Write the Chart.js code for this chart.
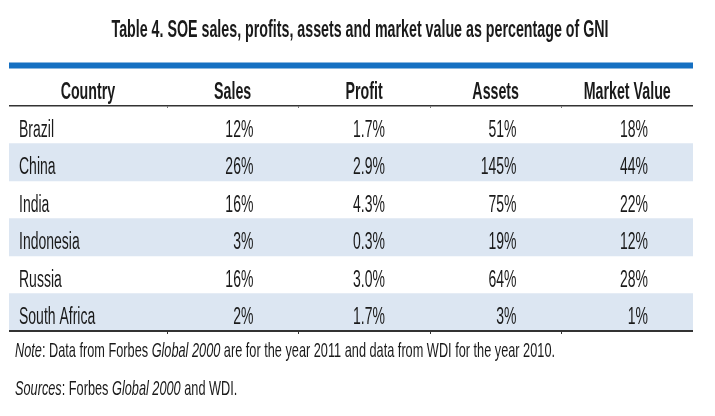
<!DOCTYPE html>
<html>
<head>
<meta charset="utf-8">
<script src="https://cdn.jsdelivr.net/npm/chart.js@4.4.0/dist/chart.umd.min.js"></script>
<style>
  html, body { margin: 0; padding: 0; background: #fff; }
</style>
</head>
<body>
<canvas id="soeTable" width="715" height="416"></canvas>
<script>
// table data
const countries = ['Brazil', 'China', 'India', 'Indonesia', 'Russia', 'South Africa'];
const columns = ['Country', 'Sales', 'Profit', 'Assets', 'Market Value'];
const sales = [12, 26, 16, 3, 16, 2];
const profit = [1.7, 2.9, 4.3, 0.3, 3.0, 1.7];
const assets = [51, 145, 75, 19, 64, 3];
const marketValue = [18, 44, 22, 12, 28, 1];
const titleText = 'Table 4. SOE sales, profits, assets and market value as percentage of GNI';
const noteRuns = [['Note', true], [': Data from Forbes ', false], ['Global 2000', true], [' are for the year 2011 and data from WDI for the year 2010.', false]];
const sourceRuns = [['Sources', true], [': Forbes ', false], ['Global 2000', true], [' and WDI.', false]];

const valueCols = [
  { data: sales, fmt: v => v + '%' },
  { data: profit, fmt: v => v.toFixed(1) + '%' },
  { data: assets, fmt: v => v + '%' },
  { data: marketValue, fmt: v => v + '%' },
];

const FAMILY = '"Liberation Sans", Arial, sans-serif';
const INK = '#1a1a1a';

// x axis runs over column units: country column is 1.2 wide, the others 1
const colEdges = [0, 1.2, 2.2, 3.2, 4.2, 5.2];

// the source uses a narrow face, so squeeze Liberation Sans sideways
function makeStyle(ctx, font, sample, width) {
  ctx.font = font;
  return { font, sx: width / ctx.measureText(sample).width };
}

function stretchText(ctx, s, x, y, st, align) {
  ctx.save();
  ctx.font = st.font;
  ctx.textAlign = align;
  ctx.textBaseline = 'alphabetic';
  ctx.fillStyle = INK;
  ctx.translate(x, y);
  ctx.scale(st.sx, 1);
  ctx.fillText(s, 0, 0);
  ctx.restore();
}

function runsText(ctx, runs, x, y, size, sx) {
  let cx = x;
  runs.forEach(([s, italic]) => {
    const font = (italic ? 'italic ' : '') + size + 'px ' + FAMILY;
    ctx.font = font;
    stretchText(ctx, s, cx, y, { font, sx }, 'left');
    cx += ctx.measureText(s).width * sx;
  });
}

const tablePlugin = {
  id: 'tablePlugin',
  afterDatasetsDraw(chart) {
    const { ctx, chartArea, scales: { x, y } } = chart;
    const rowH = y.getPixelForValue(1) - y.getPixelForValue(0);
    const left = chartArea.left, right = chartArea.right;
    const headTop = chartArea.top - rowH;

    const titleSt = makeStyle(ctx, 'bold 24px ' + FAMILY, titleText, 497);
    const headSt = makeStyle(ctx, 'bold 24px ' + FAMILY, 'Market Value', 87);
    const bodySt = makeStyle(ctx, '23px ' + FAMILY, 'Brazil', 35);

    // title
    stretchText(ctx, titleText, 360, 37, titleSt, 'center');

    // blue rule on top
    ctx.fillStyle = '#1670c2';
    ctx.fillRect(left, headTop - 6, right - left, 6);

    // header labels
    columns.forEach((c, i) => {
      const cx = x.getPixelForValue((colEdges[i] + colEdges[i + 1]) / 2);
      stretchText(ctx, c, cx, headTop + 30, headSt, 'center');
    });

    // header underline and bottom rule
    ctx.fillStyle = '#333';
    ctx.fillRect(left, chartArea.top - 1, right - left, 1.5);
    ctx.fillRect(left, chartArea.bottom - 1, right - left, 2);
    colEdges.slice(1, -1).forEach(e => {
      const ex = Math.round(x.getPixelForValue(e));
      ctx.fillStyle = '#777';
      ctx.fillRect(ex, chartArea.top, 1, 2);
      ctx.fillStyle = '#333';
      ctx.fillRect(ex, chartArea.bottom, 1, 3);
    });

    // rows
    countries.forEach((name, r) => {
      const cy = y.getPixelForValue(r) + 12;
      stretchText(ctx, name, x.getPixelForValue(colEdges[0]) + 10, cy, bodySt, 'left');
      valueCols.forEach((col, k) => {
        const rx = x.getPixelForValue(colEdges[k + 2]) - 45;
        stretchText(ctx, col.fmt(col.data[r]), rx, cy, bodySt, 'right');
      });
    });

    // notes
    let full = 0;
    noteRuns.forEach(([s, it]) => { ctx.font = (it ? 'italic ' : '') + '21px ' + FAMILY; full += ctx.measureText(s).width; });
    const noteSx = 540 / full;
    runsText(ctx, noteRuns, left + 6, chartArea.bottom + 26, 21, noteSx);
    runsText(ctx, sourceRuns, left + 6, chartArea.bottom + 64, 21, noteSx);
  }
};

new Chart(document.getElementById('soeTable'), {
  type: 'bar',
  data: {
    labels: countries,
    datasets: [{
      // shaded band on every second row
      data: countries.map((c, i) => (i % 2 === 1 ? [colEdges[0], colEdges[colEdges.length - 1]] : null)),
      backgroundColor: '#dce6f2',
      barPercentage: 1,
      categoryPercentage: 1,
      borderWidth: 0,
    }],
  },
  options: {
    indexAxis: 'y',
    responsive: false,
    animation: false,
    layout: { padding: { left: 9, right: 22, top: 106, bottom: 85 } },
    plugins: { legend: { display: false }, tooltip: { enabled: false }, title: { display: false } },
    scales: {
      x: { type: 'linear', min: 0, max: 5.2, display: false },
      y: { type: 'category', display: false },
    },
  },
  plugins: [tablePlugin],
});
</script>
</body>
</html>
